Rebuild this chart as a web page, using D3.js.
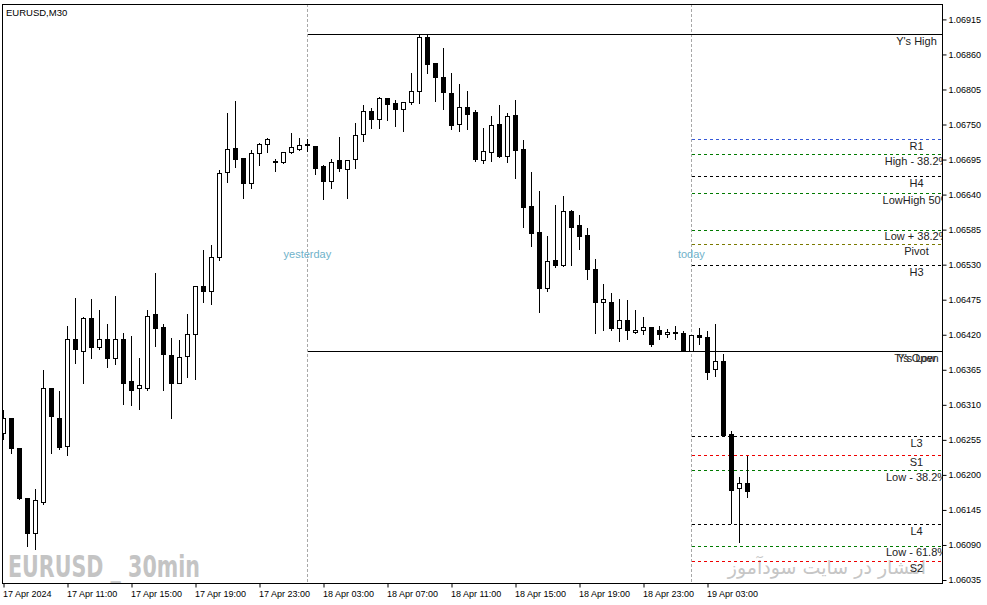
<!DOCTYPE html>
<html><head><meta charset="utf-8">
<script src="https://cdn.jsdelivr.net/npm/d3@7"></script>
<style>body{margin:0;background:#fff;} svg{display:block;}</style>
</head><body><svg id="c" width="987" height="605"></svg>
<script>
const symbolTitle = "EURUSD,M30";
const opens = [1.06265,1.06289,1.06242,1.06163,1.06108,1.06158,1.06337,1.06289,1.06245,1.06413,
1.06395,1.06447,1.06400,1.06413,1.06383,1.06414,1.06348,1.06336,1.06336,1.06452,
1.06432,1.06388,1.06345,1.06386,1.06421,1.06496,1.06488,1.06542,1.06675,1.06713,
1.06697,1.06658,1.06705,1.06719,1.06691,1.06691,1.06707,1.06711,1.06718,1.06716,
1.06685,1.06661,1.06694,1.06680,1.06696,1.06735,1.06771,1.06758,1.06791,1.06784,
1.06774,1.06785,1.06802,1.06887,1.06846,1.06824,1.06799,1.06751,1.06777,1.06769,
1.06694,1.06707,1.06751,1.06700,1.06765,1.06711,1.06622,1.06581,1.06494,1.06537,
1.06529,1.06614,1.06592,1.06576,1.06523,1.06471,1.06472,1.06430,1.06443,1.06424,
1.06427,1.06432,1.06427,1.06421,1.06424,1.06422,1.06395,1.06419,1.06416,1.06366,
1.06378,1.06264,1.06180,1.06188];
const highs = [1.06303,1.06290,1.06243,1.06165,1.06180,1.06367,1.06338,1.06334,1.06435,1.06479,
1.06449,1.06477,1.06460,1.06439,1.06483,1.06424,1.06419,1.06385,1.06460,1.06518,
1.06438,1.06416,1.06413,1.06454,1.06498,1.06554,1.06562,1.06680,1.06769,1.06788,
1.06698,1.06711,1.06722,1.06730,1.06697,1.06708,1.06738,1.06730,1.06729,1.06718,
1.06688,1.06697,1.06732,1.06695,1.06754,1.06782,1.06777,1.06795,1.06793,1.06790,
1.06786,1.06832,1.06892,1.06892,1.06848,1.06872,1.06832,1.06815,1.06804,1.06774,
1.06746,1.06765,1.06782,1.06769,1.06790,1.06727,1.06677,1.06647,1.06576,1.06625,
1.06639,1.06617,1.06609,1.06589,1.06540,1.06501,1.06487,1.06477,1.06476,1.06460,
1.06449,1.06433,1.06435,1.06430,1.06436,1.06427,1.06421,1.06432,1.06427,1.06439,
1.06392,1.06271,1.06199,1.06231];
const lows = [1.06257,1.06234,1.06162,1.06088,1.06083,1.06154,1.06234,1.06240,1.06232,1.06375,
1.06344,1.06383,1.06397,1.06370,1.06374,1.06312,1.06309,1.06304,1.06334,1.06402,
1.06334,1.06290,1.06344,1.06353,1.06350,1.06472,1.06469,1.06538,1.06659,1.06683,
1.06634,1.06650,1.06686,1.06707,1.06677,1.06689,1.06705,1.06710,1.06708,1.06672,
1.06633,1.06650,1.06677,1.06634,1.06681,1.06724,1.06744,1.06744,1.06757,1.06747,
1.06740,1.06782,1.06784,1.06831,1.06787,1.06774,1.06743,1.06740,1.06743,1.06692,
1.06689,1.06692,1.06699,1.06691,1.06666,1.06589,1.06560,1.06455,1.06488,1.06526,
1.06528,1.06529,1.06554,1.06507,1.06422,1.06428,1.06427,1.06410,1.06414,1.06422,
1.06421,1.06403,1.06413,1.06416,1.06414,1.06395,1.06395,1.06406,1.06350,1.06356,
1.06262,1.06125,1.06094,1.06166];
const closes = [1.06289,1.06242,1.06163,1.06108,1.06160,1.06337,1.06293,1.06243,1.06413,1.06397,
1.06447,1.06400,1.06413,1.06383,1.06414,1.06345,1.06333,1.06341,1.06450,1.06430,
1.06389,1.06345,1.06385,1.06421,1.06496,1.06488,1.06542,1.06674,1.06711,1.06696,
1.06658,1.06705,1.06719,1.06727,1.06692,1.06707,1.06714,1.06718,1.06719,1.06681,
1.06661,1.06691,1.06681,1.06694,1.06733,1.06771,1.06758,1.06791,1.06782,1.06774,
1.06785,1.06802,1.06887,1.06845,1.06824,1.06801,1.06749,1.06777,1.06766,1.06696,
1.06708,1.06749,1.06700,1.06763,1.06710,1.06620,1.06579,1.06494,1.06535,1.06529,
1.06614,1.06589,1.06575,1.06523,1.06471,1.06476,1.06430,1.06443,1.06427,1.06428,
1.06432,1.06405,1.06421,1.06424,1.06422,1.06395,1.06419,1.06416,1.06361,1.06378,
1.06262,1.06177,1.06187,1.06174];

const timeTickBars = [0,8,16,24,32,40,48,56,64,72,80,88];
const timeTickLabels = ["17 Apr 2024","17 Apr 11:00","17 Apr 15:00","17 Apr 19:00","17 Apr 23:00",
"18 Apr 03:00","18 Apr 07:00","18 Apr 11:00","18 Apr 15:00","18 Apr 19:00","18 Apr 23:00","19 Apr 03:00"];
const priceTicks = [1.06035,1.06090,1.06145,1.06200,1.06255,1.06310,1.06365,1.06420,1.06475,
1.06530,1.06585,1.06640,1.06695,1.06750,1.06805,1.06860,1.06915];

const yesterdayBar = 38, todayBar = 86;
const dayLabels = ["yesterday","today"];
const yHigh = 1.06892, yLow = 1.06395;
const levelNames = ["R1","High - 38.2%","H4","LowHigh 50%","Low + 38.2%","Pivot","H3",
"L3","S1","Low - 38.2%","L4","Low - 61.8%","S2"];
const levelValues = [1.06727,1.06703,1.06669,1.06643,1.06585,1.06562,1.06530,
1.06261,1.06231,1.06207,1.06123,1.06089,1.06065];
const watermarkText = "EURUSD _ 30min";
const siteText = "انتشار در سایت سودآموز";

// ---- styles (kept apart from data) ----
const levelColor = {"R1":"#3558d8","S1":"#ee0000","S2":"#ee0000","Pivot":"#7a7a00",
  "H4":"#000","H3":"#000","L3":"#000","L4":"#000"};
const fibColor = "#007a00";
const FONT = "'Liberation Sans', Arial, sans-serif";

const L = 2, T = 4, R = 942, B = 583;
const svg = d3.select("#c");
svg.append("rect").attr("width",987).attr("height",605).attr("fill","#fff");

const x = d3.scaleLinear().domain([0, opens.length-1]).range([3.4, 3.4 + 8*(opens.length-1)]);
const y = d3.scaleLinear().domain([1.06035, 1.06915]).range([580, 19.4]);
const px = i => Math.floor(x(i)) + 0.5;
const py = v => Math.round(y(v)) + 0.5;

svg.append("defs").append("clipPath").attr("id","plot")
  .append("rect").attr("x",L).attr("y",T).attr("width",R-L).attr("height",B-T);
const g = svg.append("g").attr("clip-path","url(#plot)");

// watermarks
g.append("text").attr("x",8).attr("y",576.5).text(watermarkText)
  .attr("font-family","'Liberation Sans Narrow','DejaVu Sans Condensed',sans-serif")
  .attr("font-weight","bold").attr("font-size",30).attr("fill","#c4c4c4")
  .attr("textLength",192).attr("lengthAdjust","spacingAndGlyphs");
g.append("text").attr("x",827).attr("y",574).text(siteText)
  .attr("font-family","'DejaVu Sans',sans-serif").attr("font-size",19)
  .attr("text-anchor","middle").attr("fill","#c6c6c6").attr("direction","rtl");

// day separator lines
[yesterdayBar, todayBar].forEach((b,i) => {
  g.append("line").attr("x1",px(b)).attr("x2",px(b)).attr("y1",T).attr("y2",B)
    .attr("stroke","#a8a8a8").attr("stroke-dasharray","3,2");
  g.append("text").attr("x",x(b)).attr("y",254).attr("dy","0.35em").text(dayLabels[i])
    .attr("text-anchor","middle").attr("font-family",FONT).attr("font-size",11).attr("fill","#6fb2ca");
});

// yesterday high / low
const labelX = 916.5;
function lbl(v, t){
  g.append("text").attr("x",labelX).attr("y",y(v)+7).attr("dy","0.35em").text(t)
    .attr("text-anchor","middle").attr("font-family",FONT).attr("font-size",11).attr("fill","#222");
}
[yHigh, yLow].forEach(v => {
  g.append("line").attr("x1",px(yesterdayBar)).attr("x2",R).attr("y1",py(v)).attr("y2",py(v))
    .attr("stroke","#000").attr("stroke-width",1).attr("shape-rendering","crispEdges");
});
lbl(yHigh, "Y's High");
lbl(yLow, "Y's Low");
lbl(opens[todayBar], "T's Open");

// levels
levelNames.forEach((n,i) => {
  const v = levelValues[i];
  g.append("line").attr("x1",px(todayBar)).attr("x2",R).attr("y1",py(v)).attr("y2",py(v))
    .attr("stroke", levelColor[n] || fibColor).attr("stroke-dasharray","3,3")
    .attr("shape-rendering","crispEdges");
  lbl(v, n);
});

// candles
const idx = d3.range(opens.length);
g.append("g").selectAll("line").data(idx).join("line")
  .attr("x1",px).attr("x2",px).attr("y1",i=>py(highs[i])).attr("y2",i=>py(lows[i]))
  .attr("stroke","#000").attr("shape-rendering","crispEdges");
g.append("g").selectAll("rect").data(idx).join("rect")
  .attr("x",i=>px(i)-2).attr("width",4)
  .attr("y",i=>py(Math.max(opens[i],closes[i])))
  .attr("height",i=>Math.max(0, py(Math.min(opens[i],closes[i])) - py(Math.max(opens[i],closes[i]))))
  .attr("fill",i=>closes[i] >= opens[i] ? "#fff" : "#000")
  .attr("stroke","#000").attr("stroke-width",1).attr("shape-rendering","crispEdges");

// title
svg.append("text").attr("x",6).attr("y",12.5).attr("dy","0.35em").text(symbolTitle)
  .attr("font-family",FONT).attr("font-size",9.5).attr("fill","#000");

// frame
svg.append("rect").attr("x",L+0.5).attr("y",T+0.5).attr("width",R-L).attr("height",B-T)
  .attr("fill","none").attr("stroke","#000").attr("shape-rendering","crispEdges");

// axes
const yAxis = d3.axisRight(y).tickValues(priceTicks).tickSize(4).tickPadding(2)
  .tickFormat(d3.format(".5f"));
const ya = svg.append("g").attr("transform",`translate(${R+0.5},0)`).call(yAxis);
ya.select(".domain").remove();
ya.selectAll("text").attr("font-family",FONT).attr("font-size",9).attr("fill","#000");
ya.selectAll("line").attr("stroke","#000");

const xAxis = d3.axisBottom(x).tickValues(timeTickBars).tickSize(4).tickPadding(3)
  .tickFormat((d,i) => timeTickLabels[i]);
const xa = svg.append("g").attr("transform",`translate(0.1,${B+0.5})`).call(xAxis);
xa.select(".domain").remove();
xa.selectAll("text").attr("font-family",FONT).attr("font-size",9).attr("fill","#000")
  .attr("text-anchor","start").attr("x",-1);
xa.selectAll("line").attr("stroke","#000");
</script></body></html>
